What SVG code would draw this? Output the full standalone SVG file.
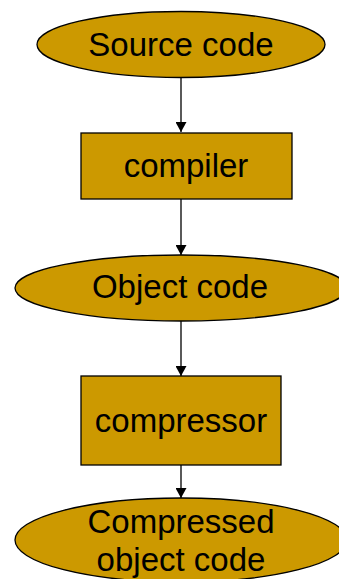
<svg xmlns="http://www.w3.org/2000/svg" width="339" height="579" viewBox="0 0 339 579">
<style>
.shape{fill:#CC9900;stroke:#000;stroke-width:1.3}
.lbl{font-family:"Liberation Sans",Arial,sans-serif;font-size:33px;fill:#000;text-anchor:middle}
.conn{stroke:#000;stroke-width:1.3;fill:none;marker-end:url(#ah)}
</style>
<defs>
<marker id="ah" markerUnits="userSpaceOnUse" markerWidth="11" markerHeight="11" refX="10" refY="5.5" orient="auto">
<path d="M0,0 L10,5.5 L0,11 Z" fill="#000"/>
</marker>
</defs>
<rect width="339" height="579" fill="#fff"/>
<g id="connectors">
<line class="conn" x1="181" y1="77" x2="181" y2="132"/>
<line class="conn" x1="181" y1="199" x2="181" y2="255"/>
<line class="conn" x1="181" y1="321" x2="181" y2="376"/>
<line class="conn" x1="181" y1="465" x2="181" y2="498"/>
</g>
<g id="source-code">
<ellipse class="shape" cx="181" cy="44.5" rx="144" ry="33"/>
<text class="lbl" x="181" y="56">Source code</text>
</g>
<g id="compiler">
<rect class="shape" x="81" y="133" width="211" height="66"/>
<text class="lbl" x="186" y="177">compiler</text>
</g>
<g id="object-code">
<ellipse class="shape" cx="181" cy="288" rx="166" ry="33"/>
<text class="lbl" x="180" y="298">Object code</text>
</g>
<g id="compressor">
<rect class="shape" x="81" y="376" width="200" height="89"/>
<text class="lbl" x="181" y="432">compressor</text>
</g>
<g id="compressed-object-code">
<ellipse class="shape" cx="181" cy="540" rx="166" ry="42"/>
<text class="lbl" x="181" y="533">Compressed</text>
<text class="lbl" x="181" y="571">object code</text>
</g>
</svg>
